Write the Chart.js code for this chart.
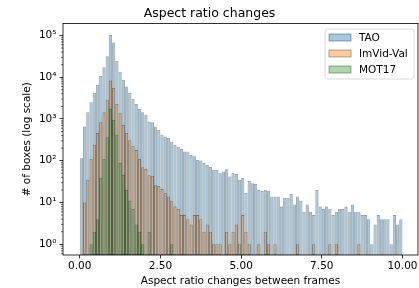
<!DOCTYPE html>
<html>
<head>
<meta charset="utf-8">
<script src="https://cdn.jsdelivr.net/npm/chart.js@4.4.0/dist/chart.umd.min.js"></script>
<style>
  html, body { margin: 0; padding: 0; background: #fff; }
</style>
</head>
<body>
<canvas id="myChart" width="419" height="288"></canvas>
<script>
/* histogram of aspect ratio changes, 100 bins of width 0.1 from 0 to 10 */
var binStart = 0;
var binWidth = 0.1;
var seriesNames = ['TAO', 'ImVid-Val', 'MOT17'];

var taoCounts = [
  115, 660, 1450, 2500, 4200, 6600, 10700, 17400, 31600, 102000,
  67600, 24500, 13500, 8700, 6000, 4200, 3000, 2300, 1740, 1450,
  1260, 870, 830, 660, 550, 420, 380, 350, 290, 240,
  215, 190, 166, 166, 138, 129, 105, 102, 89, 79,
  71, 60, 60, 52, 55, 63, 42, 52, 48, 35,
  39, 17, 33, 29, 28, 20, 19, 20, 19, 14,
  14, 14, 8, 13, 13, 16, 9, 14, 11, 6,
  9, 6, 5, 20, 8, 7, 8, 7, 5, 6,
  7, 7, 8, 6, 9, 6, 6, 5, 5, 4,
  1, 3, 5, 4, 4, 4, 1, 5, 3, 4
];
var imvidCounts = [
  0, 10, 35, 110, 240, 460, 830, 1450, 2900, 8300,
  5500, 2300, 1380, 720, 460, 310, 230, 180, 110, 70,
  64, 45, 44, 26, 25, 21, 17, 14, 11, 8,
  7, 5, 5, 4, 3, 5, 5, 4, 2, 3,
  2, 1, 1, 1, 0, 2, 1, 2, 3, 1,
  5, 2, 1, 0, 0, 1, 0, 2, 1, 0,
  1, 0, 0, 0, 0, 0, 0, 1, 0, 0,
  0, 0, 1, 0, 0, 0, 0, 1, 0, 1,
  0, 0, 0, 0, 0, 0, 1, 0, 0, 0,
  0, 0, 0, 0, 0, 0, 0, 0, 0, 0
];
var motCounts = [
  0, 0, 0, 1, 2, 4, 39, 110, 365, 1740,
  950, 420, 88, 46, 20, 11, 7, 3, 2, 1,
  0, 2, 0, 0, 0, 0, 0, 0, 1, 0
];

var xTicks = [0, 2.5, 5, 7.5, 10];
var yTicks = [1, 10, 100, 1000, 10000, 100000];
var supers = ['\u2070', '\u00b9', '\u00b2', '\u00b3', '\u2074', '\u2075'];

var fam = '"DejaVu Sans", sans-serif';

function toPoints(counts) {
  return counts.map(function (c, i) {
    return { x: binStart + binWidth * (i + 0.5), y: c > 0 ? c : null };
  });
}

var colors = [
  'rgba(31,119,180,0.4)',
  'rgba(255,127,14,0.4)',
  'rgba(44,160,44,0.4)'
];
var edge = 'rgba(0,0,0,0.4)';

var barData = {
  datasets: [taoCounts, imvidCounts, motCounts].map(function (counts, k) {
    return {
      label: seriesNames[k],
      data: toPoints(counts),
      backgroundColor: colors[k],
      borderColor: edge,
      borderWidth: 0.8,
      borderSkipped: false,
      inflateAmount: 0,
      order: 3 - k
    };
  })
};

// spines, minor log ticks and the boxed legend
var frameAndLegend = {
  id: 'frameAndLegend',
  afterDraw: function (chart) {
    var ctx = chart.ctx, a = chart.chartArea, y = chart.scales.y;
    ctx.save();
    ctx.strokeStyle = '#000';
    ctx.lineWidth = 0.6;
    for (var e = -1; e <= 5; e++) {
      for (var m = 2; m <= 9; m++) {
        var v = m * Math.pow(10, e);
        if (v < y.min || v > y.max) continue;
        var py = y.getPixelForValue(v);
        ctx.beginPath();
        ctx.moveTo(a.left - 2, py);
        ctx.lineTo(a.left, py);
        ctx.stroke();
      }
    }
    ctx.lineWidth = 0.8;
    ctx.strokeRect(a.left, a.top, a.right - a.left, a.bottom - a.top);

    // legend box
    var lx = 325, ly = 29, lw = 89, lh = 50;
    ctx.beginPath();
    ctx.roundRect(lx, ly, lw, lh, 2.5);
    ctx.fillStyle = 'rgba(255,255,255,0.8)';
    ctx.fill();
    ctx.strokeStyle = '#d0d0d0';
    ctx.lineWidth = 0.8;
    ctx.stroke();
    ctx.font = '10.5px ' + fam;
    ctx.textBaseline = 'middle';
    chart.data.datasets.forEach(function (ds, i) {
      var cy = ly + 8.5 + i * 16;
      ctx.fillStyle = ds.backgroundColor;
      ctx.fillRect(329, cy - 3.5, 22, 7);
      ctx.strokeStyle = ds.borderColor;
      ctx.lineWidth = 0.8;
      ctx.strokeRect(329, cy - 3.5, 22, 7);
      ctx.fillStyle = '#000';
      ctx.fillText(ds.label, 359, cy + 0.5);
    });
    ctx.restore();
  }
};

var ctx1 = document.getElementById('myChart').getContext('2d');
window.myHist = new Chart(ctx1, {
  type: 'bar',
  data: barData,
  plugins: [frameAndLegend],
  options: {
    animation: false,
    responsive: false,
    devicePixelRatio: 1,
    layout: { padding: 0 },
    datasets: {
      bar: { grouped: false, barPercentage: 1, categoryPercentage: 1 }
    },
    plugins: {
      legend: { display: false },
      tooltip: { enabled: false },
      title: {
        display: true,
        text: 'Aspect ratio changes',
        color: '#000',
        font: { family: fam, size: 12.5, weight: 'normal' },
        padding: { top: 6, bottom: 2.5 }
      }
    },
    scales: {
      x: {
        type: 'linear',
        min: -0.52,
        max: 10.48,
        offset: false,
        afterBuildTicks: function (s) { s.ticks = xTicks.map(function (v) { return { value: v }; }); },
        afterFit: function (s) { s.height = 33; },
        grid: { offset: false, drawOnChartArea: false, tickLength: 3.5, tickColor: '#000', tickWidth: 0.8 },
        border: { display: false },
        ticks: {
          color: '#000',
          autoSkip: false,
          maxRotation: 0,
          padding: 1.5,
          font: { family: fam, size: 10.5 },
          callback: function (v) { return Number(v).toFixed(2); }
        },
        title: {
          display: true,
          text: 'Aspect ratio changes between frames',
          color: '#000',
          font: { family: fam, size: 10.5 },
          padding: 0.5
        }
      },
      y: {
        type: 'logarithmic',
        min: 0.555,
        max: 193000,
        afterBuildTicks: function (s) { s.ticks = yTicks.map(function (v) { return { value: v, major: true }; }); },
        afterFit: function (s) { s.width = 63; },
        grid: { drawOnChartArea: false, tickLength: 3.5, tickColor: '#000', tickWidth: 0.8 },
        border: { display: false },
        ticks: {
          color: '#000',
          autoSkip: false,
          padding: 3,
          font: { family: fam, size: 10.5 },
          callback: function (v) { return '10' + supers[Math.round(Math.log10(v))]; }
        },
        title: {
          display: true,
          text: '# of boxes (log scale)',
          color: '#000',
          font: { family: fam, size: 10.5 },
          padding: 21
        }
      }
    }
  }
});
</script>
</body>
</html>
